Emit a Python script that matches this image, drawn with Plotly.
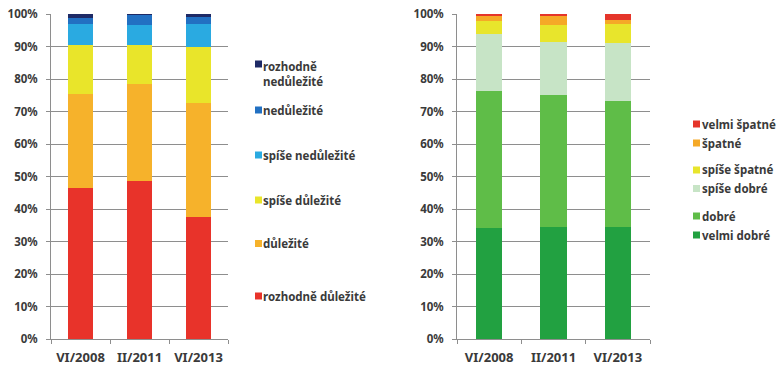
import plotly.graph_objects as go

# Survey periods (x categories, shared by both panels)
periods = ["VI/2008", "II/2011", "VI/2013"]

# Left panel: importance (percent of respondents), bottom to top
importance_labels = ["rozhodně důležité", "důležité", "spíše důležité",
                     "spíše nedůležité", "nedůležité", "rozhodně<br>nedůležité"]
importance_colors = ["#e8332a", "#f6b22b", "#e9e52a", "#2aaae1", "#2270c2", "#1e2a66"]
rozhodne_dulezite = [46.5, 48.5, 37.4]
dulezite = [28.8, 30.1, 35.2]
spise_dulezite = [15.2, 11.9, 17.2]
spise_nedulezite = [6.5, 6.0, 7.1]
nedulezite = [1.9, 3.2, 2.3]
rozhodne_nedulezite = [1.1, 0.3, 0.8]
importance_values = [rozhodne_dulezite, dulezite, spise_dulezite,
                     spise_nedulezite, nedulezite, rozhodne_nedulezite]

# Right panel: assessment (percent of respondents), bottom to top
rating_labels = ["velmi dobré", "dobré", "spíše dobré",
                 "spíše špatné", "špatné", "velmi špatné"]
rating_colors = ["#22a141", "#5fbd48", "#c7e4c6", "#e8e52c", "#f5a927", "#e5352a"]
velmi_dobre = [34.3, 34.6, 34.4]
dobre = [42.1, 40.6, 38.9]
spise_dobre = [17.6, 16.2, 17.9]
spise_spatne = [4.0, 5.3, 5.7]
spatne = [1.3, 2.6, 1.3]
velmi_spatne = [0.7, 0.7, 1.8]
rating_values = [velmi_dobre, dobre, spise_dobre, spise_spatne, spatne, velmi_spatne]

# y tick labels
y_ticks = [0, 10, 20, 30, 40, 50, 60, 70, 80, 90, 100]
y_tick_text = [f"{v}%" for v in y_ticks]

W, H = 781, 367
FONT = "Noto Sans"
TXT = "#3a3a3a"
GRID = "#8e8e8e"

fig = go.Figure()

for name, color, vals in zip(importance_labels, importance_colors, importance_values):
    fig.add_trace(go.Bar(x=periods, y=vals, name=name, marker_color=color,
                         marker_line_width=0, xaxis="x", yaxis="y", showlegend=False))

for name, color, vals in zip(rating_labels, rating_colors, rating_values):
    fig.add_trace(go.Bar(x=periods, y=vals, name=name, marker_color=color,
                         marker_line_width=0, xaxis="x2", yaxis="y2", showlegend=False))


def px_x(v):
    return v / W


def px_y(v):
    return 1 - v / H


y_dom = [px_y(339), px_y(14)]

common_y = dict(range=[0, 100], tickvals=y_ticks, ticktext=y_tick_text,
                showgrid=True, gridcolor=GRID, gridwidth=1, zeroline=False,
                showline=True, linecolor=GRID, linewidth=1, automargin=False,
                ticks="outside", ticklen=4, tickcolor=GRID, ticklabelstandoff=6,
                tickfont=dict(family=FONT, size=11.5, color=TXT, weight="bold"),
                fixedrange=True)
common_x = dict(showline=True, linecolor=GRID, linewidth=1, ticks="outside",
                tickson="boundaries", ticklen=4, tickcolor=GRID, automargin=False,
                ticklabelstandoff=6,
                tickfont=dict(family=FONT, size=13, color=TXT, weight="bold"),
                fixedrange=True)

fig.update_layout(
    width=W, height=H,
    margin=dict(l=0, r=0, t=0, b=0),
    paper_bgcolor="white", plot_bgcolor="white",
    barmode="stack", bargap=0.59,
    showlegend=False,
    xaxis=dict(domain=[px_x(51), px_x(228)], anchor="y", **common_x),
    yaxis=dict(domain=y_dom, anchor="x", **common_y),
    xaxis2=dict(domain=[px_x(457), px_x(650)], anchor="y2", **common_x),
    yaxis2=dict(domain=y_dom, anchor="x2", **common_y),
)

# Legends: colour squares with labels next to each panel (top item = top segment)
legend_font = dict(family=FONT, size=11.5, color=TXT, weight="bold")


def add_key(color, label, sq_x, txt_x, cy, text_cy=None):
    fig.add_shape(type="rect", xref="paper", yref="paper",
                  x0=px_x(sq_x), x1=px_x(sq_x + 7),
                  y0=px_y(cy + 3.5), y1=px_y(cy - 3.5),
                  fillcolor=color, line_width=0)
    fig.add_annotation(xref="paper", yref="paper", x=px_x(txt_x),
                       y=px_y(text_cy if text_cy is not None else cy),
                       xanchor="left", yanchor="middle", align="left",
                       text=label, showarrow=False, font=legend_font)


left_rows = [64, 110, 155, 200, 243.5, 296]  # top to bottom
for i, cy in enumerate(left_rows):
    k = len(importance_labels) - 1 - i
    add_key(importance_colors[k], importance_labels[k], 255, 261, cy,
            text_cy=73.5 if "<br>" in importance_labels[k] else None)

right_rows = [124, 143, 170, 188.5, 216, 235]
for i, cy in enumerate(right_rows):
    k = len(rating_labels) - 1 - i
    add_key(rating_colors[k], rating_labels[k], 693, 700, cy)

fig.write_html("out.html")
